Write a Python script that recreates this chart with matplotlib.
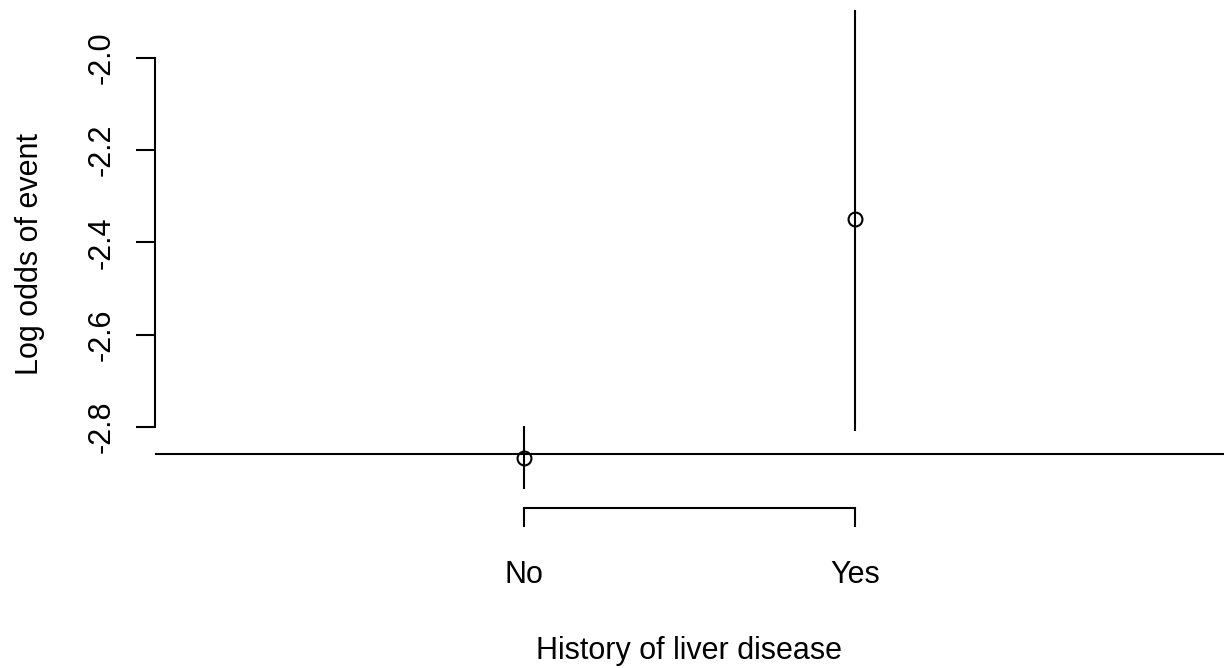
import matplotlib
matplotlib.use("Agg")
import matplotlib.pyplot as plt

plt.rcParams["font.family"] = ["Liberation Sans", "DejaVu Sans"]

# data
groups = ["No", "Yes"]
log_odds = [-2.867, -2.349]
ci_low = [-2.934, -2.809]
ci_high = [-2.798, -1.896]
overall = -2.858
y_ticks = [-2.0, -2.2, -2.4, -2.6, -2.8]

W, H = 1224, 668
fig = plt.figure(figsize=(W / 100, H / 100), dpi=100)
ax = fig.add_axes([155 / W, 1 - 508 / H, (W - 155) / W, 508 / H])

xpos = [1, 2]
ax.vlines(xpos, ci_low, ci_high, color="black", lw=1.5)
ax.plot(xpos, log_odds, "o", mfc="none", mec="black", ms=10, mew=1.5, zorder=3)
ax.axhline(overall, color="black", lw=1.5)

ax.set_xlim(-0.115, 3.115)
ax.set_ylim(-2.9756, -1.8743)

for s in ["top", "right"]:
    ax.spines[s].set_visible(False)
ax.spines["left"].set_bounds(-2.8, -2.0)
ax.spines["bottom"].set_bounds(1, 2)
ax.spines["left"].set_linewidth(1.5)
ax.spines["bottom"].set_linewidth(1.5)

ax.set_xticks(xpos)
ax.set_xticklabels(groups)
ax.set_yticks(y_ticks)
ax.set_yticklabels([f"{v:.1f}" for v in y_ticks], rotation=90, va="center")
ax.tick_params(direction="out", length=13.5, width=1.5, labelsize=22)
ax.tick_params(axis="x", pad=24)
ax.tick_params(axis="y", pad=14)

ax.set_xlabel("History of liver disease", fontsize=22, labelpad=33)
ax.set_ylabel("Log odds of event", fontsize=22, labelpad=30)

fig.savefig("out.png", dpi=100)
